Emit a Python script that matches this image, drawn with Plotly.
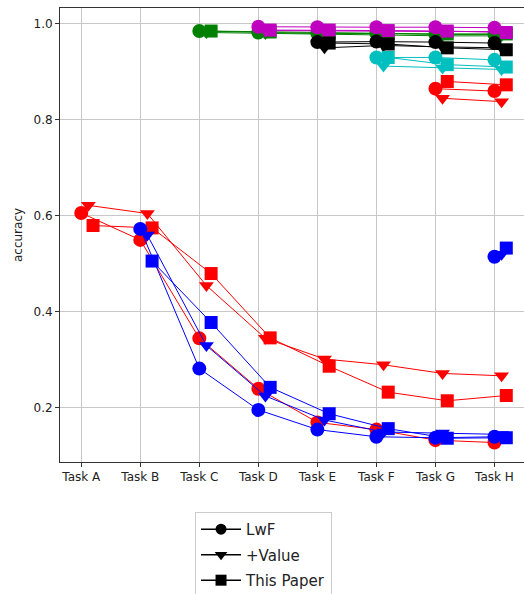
import plotly.graph_objects as go

tasks = ["Task A", "Task B", "Task C", "Task D", "Task E", "Task F", "Task G", "Task H"]
methods = ["LwF", "+Value", "This Paper"]
series_colors = ["#ff0000", "#0000ff", "#008000", "#bf00bf", "#000000", "#00bfbf", "#ff0000", "#0000ff"]

# accuracy on each task (row = task the model was first trained on), over later tasks
lwf = [
    [0.606, 0.550, 0.345, 0.240, 0.170, 0.155, 0.133, 0.128],
    [0.573, 0.282, 0.196, 0.155, 0.140, 0.138, 0.140],
    [0.985, 0.982, 0.980, 0.980, 0.978, 0.978],
    [0.994, 0.993, 0.993, 0.993, 0.992],
    [0.962, 0.963, 0.962, 0.960],
    [0.930, 0.930, 0.925],
    [0.865, 0.860],
    [0.515],
]
plus_value = [
    [0.622, 0.605, 0.455, 0.345, 0.302, 0.290, 0.272, 0.267],
    [0.560, 0.330, 0.225, 0.175, 0.150, 0.148, 0.145],
    [0.982, 0.980, 0.978, 0.977, 0.975, 0.975],
    [0.986, 0.985, 0.985, 0.984, 0.984],
    [0.950, 0.955, 0.952, 0.950],
    [0.912, 0.908, 0.905],
    [0.845, 0.838],
    [0.520],
]
this_paper = [
    [0.580, 0.575, 0.480, 0.346, 0.287, 0.233, 0.215, 0.226],
    [0.506, 0.378, 0.243, 0.188, 0.157, 0.137, 0.138],
    [0.985, 0.983, 0.981, 0.980, 0.979, 0.979],
    [0.987, 0.987, 0.986, 0.985, 0.982],
    [0.960, 0.958, 0.950, 0.946],
    [0.930, 0.915, 0.910],
    [0.880, 0.873],
    [0.533],
]

symbols = ["circle", "triangle-down", "square"]
offsets = [0.0, 0.12, 0.2]
sizes = [14, 13, 13]

fig = go.Figure()
for i, color in enumerate(series_colors):
    for m, data in enumerate([lwf, plus_value, this_paper]):
        vals = data[i]
        xs = [i + k + offsets[m] for k in range(len(vals))]
        fig.add_trace(go.Scatter(
            x=xs, y=vals, mode="lines+markers",
            line=dict(color=color, width=1),
            marker=dict(symbol=symbols[m], size=sizes[m], color=color,
                        line=dict(width=0)),
            showlegend=False, hoverinfo="skip",
        ))

for m, name in enumerate(methods):
    fig.add_trace(go.Scatter(
        x=[None], y=[None], mode="lines+markers", name=name,
        legendgroup=name,
        line=dict(color="black", width=1.5),
        marker=dict(symbol=symbols[m], size=11, color="black"),
    ))

fig.update_layout(
    width=524, height=594,
    margin=dict(l=60, r=0, t=8, b=132, autoexpand=False),
    paper_bgcolor="white", plot_bgcolor="white",
    font=dict(family="DejaVu Sans", size=12, color="#222222"),
    showlegend=True,
    legend=dict(
        x=0.291, y=-0.11, xanchor="left", yanchor="top",
        bgcolor="white", bordercolor="#cccccc", borderwidth=1,
        font=dict(size=15, color="#222222"),
        tracegroupgap=3, itemwidth=40,
    ),
)
fig.update_xaxes(
    range=[-0.36, 7.5], automargin=False,
    tickmode="array", tickvals=list(range(len(tasks))), ticktext=tasks,
    showgrid=True, gridcolor="#c8c8c8", gridwidth=1,
    showline=True, linecolor="#333333", linewidth=1, mirror=True,
    ticks="outside", ticklen=4, tickcolor="#333333",
    zeroline=False,
)
fig.update_yaxes(
    range=[0.0875, 1.033], automargin=False,
    tickmode="array", tickvals=[0.2, 0.4, 0.6, 0.8, 1.0], tickformat=".1f",
    showgrid=True, gridcolor="#c8c8c8", gridwidth=1,
    showline=True, linecolor="#333333", linewidth=1,
    ticks="outside", ticklen=4, tickcolor="#333333",
    zeroline=False,
    title=dict(text="accuracy", font=dict(size=12), standoff=8),
)

fig.write_html(
    "out.html",
    config={"displayModeBar": False},
    post_script="document.body.style.margin='0';document.body.style.overflow='hidden';",
)
